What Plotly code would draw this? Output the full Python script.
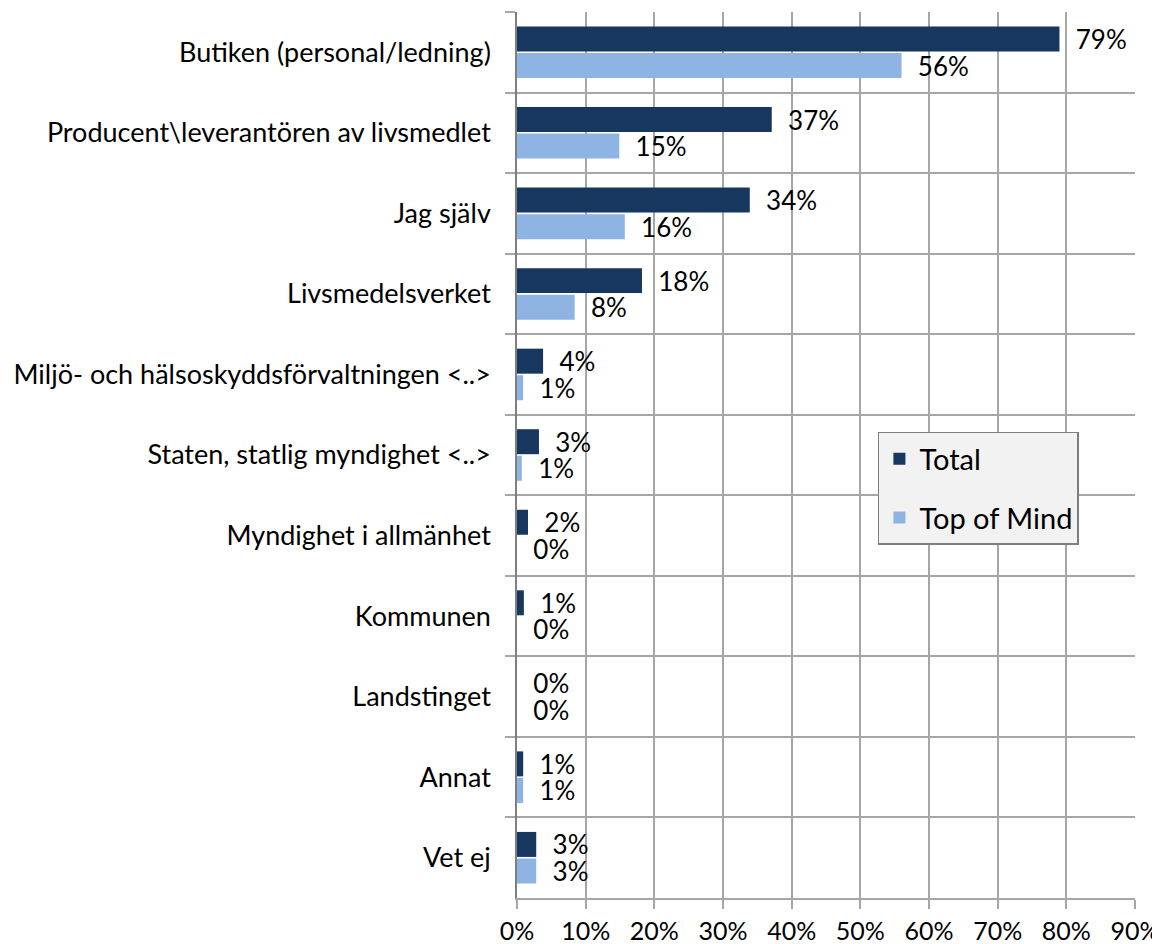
import plotly.graph_objects as go

categories = [
    "Butiken (personal/ledning)",
    "Producent\\leverantören av livsmedlet",
    "Jag själv",
    "Livsmedelsverket",
    "Miljö- och hälsoskyddsförvaltningen <..>",
    "Staten, statlig myndighet <..>",
    "Myndighet i allmänhet",
    "Kommunen",
    "Landstinget",
    "Annat",
    "Vet ej",
]
total = [79.0, 37.1, 33.9, 18.2, 3.8, 3.2, 1.6, 1.0, 0.0, 0.9, 2.8]
top_of_mind = [56.0, 14.9, 15.7, 8.4, 0.9, 0.7, 0.0, 0.0, 0.0, 0.9, 2.8]
x_ticks = [0, 10, 20, 30, 40, 50, 60, 70, 80, 90]
x_tick_text = [f"{v}%" for v in x_ticks]

FONT = "Lato, 'Open Sans', sans-serif"
NB = "\u00a0\u00a0"


def labels(vals):
    return [NB + f"{int(round(v))}%" for v in vals]


fig = go.Figure()
fig.add_trace(go.Bar(
    y=categories, x=total, orientation="h", name="Total",
    marker=dict(color="#17375E", line=dict(width=0)),
    text=labels(total), textposition="outside", cliponaxis=False,
    constraintext="none",
    textfont=dict(size=26, color="#000000", family=FONT),
    legendgroup="a",
))
fig.add_trace(go.Bar(
    y=categories, x=top_of_mind, orientation="h", name="Top of Mind",
    marker=dict(color="#8EB4E3", line=dict(width=0)),
    text=labels(top_of_mind), textposition="outside", cliponaxis=False,
    constraintext="none",
    textfont=dict(size=26, color="#000000", family=FONT),
    legendgroup="b",
))

fig.update_layout(
    width=1152, height=936,
    margin=dict(l=509, r=25, t=4, b=46, autoexpand=False),
    paper_bgcolor="white", plot_bgcolor="white",
    barmode="group", bargap=0.34, bargroupgap=0.06,
    font=dict(family=FONT, size=26, color="#000000"),
    showlegend=True,
    legend=dict(
        x=0.584, y=0.526, xanchor="left", yanchor="top",
        bgcolor="#F2F2F2", bordercolor="#7F7F7F", borderwidth=1.5,
        font=dict(size=29, family=FONT, color="#000000"),
        traceorder="grouped", tracegroupgap=18,
        itemsizing="constant",
    ),
)
fig.update_xaxes(
    range=[0, 90], tickvals=x_ticks, ticktext=x_tick_text,
    showgrid=True, gridcolor="#A6A6A6", gridwidth=1.5,
    showline=True, linecolor="#A6A6A6", linewidth=1.5,
    ticks="outside", ticklen=9, tickcolor="#A6A6A6", tickwidth=1.5,
    tickfont=dict(size=25, family=FONT, color="#000000"),
    ticklabelstandoff=1,
    zeroline=False, fixedrange=True, automargin=False,
)
fig.update_yaxes(
    autorange="reversed", type="category",
    tickson="boundaries", ticks="outside", ticklen=10,
    tickcolor="#A6A6A6", tickwidth=1.5,
    showgrid=True, gridcolor="#A6A6A6", gridwidth=1.5,
    showline=True, linecolor="#7F7F7F", linewidth=1.5,
    tickfont=dict(size=27, family=FONT, color="#000000"),
    ticklabelstandoff=19, automargin=False,
)

fig.write_html("out.html")
